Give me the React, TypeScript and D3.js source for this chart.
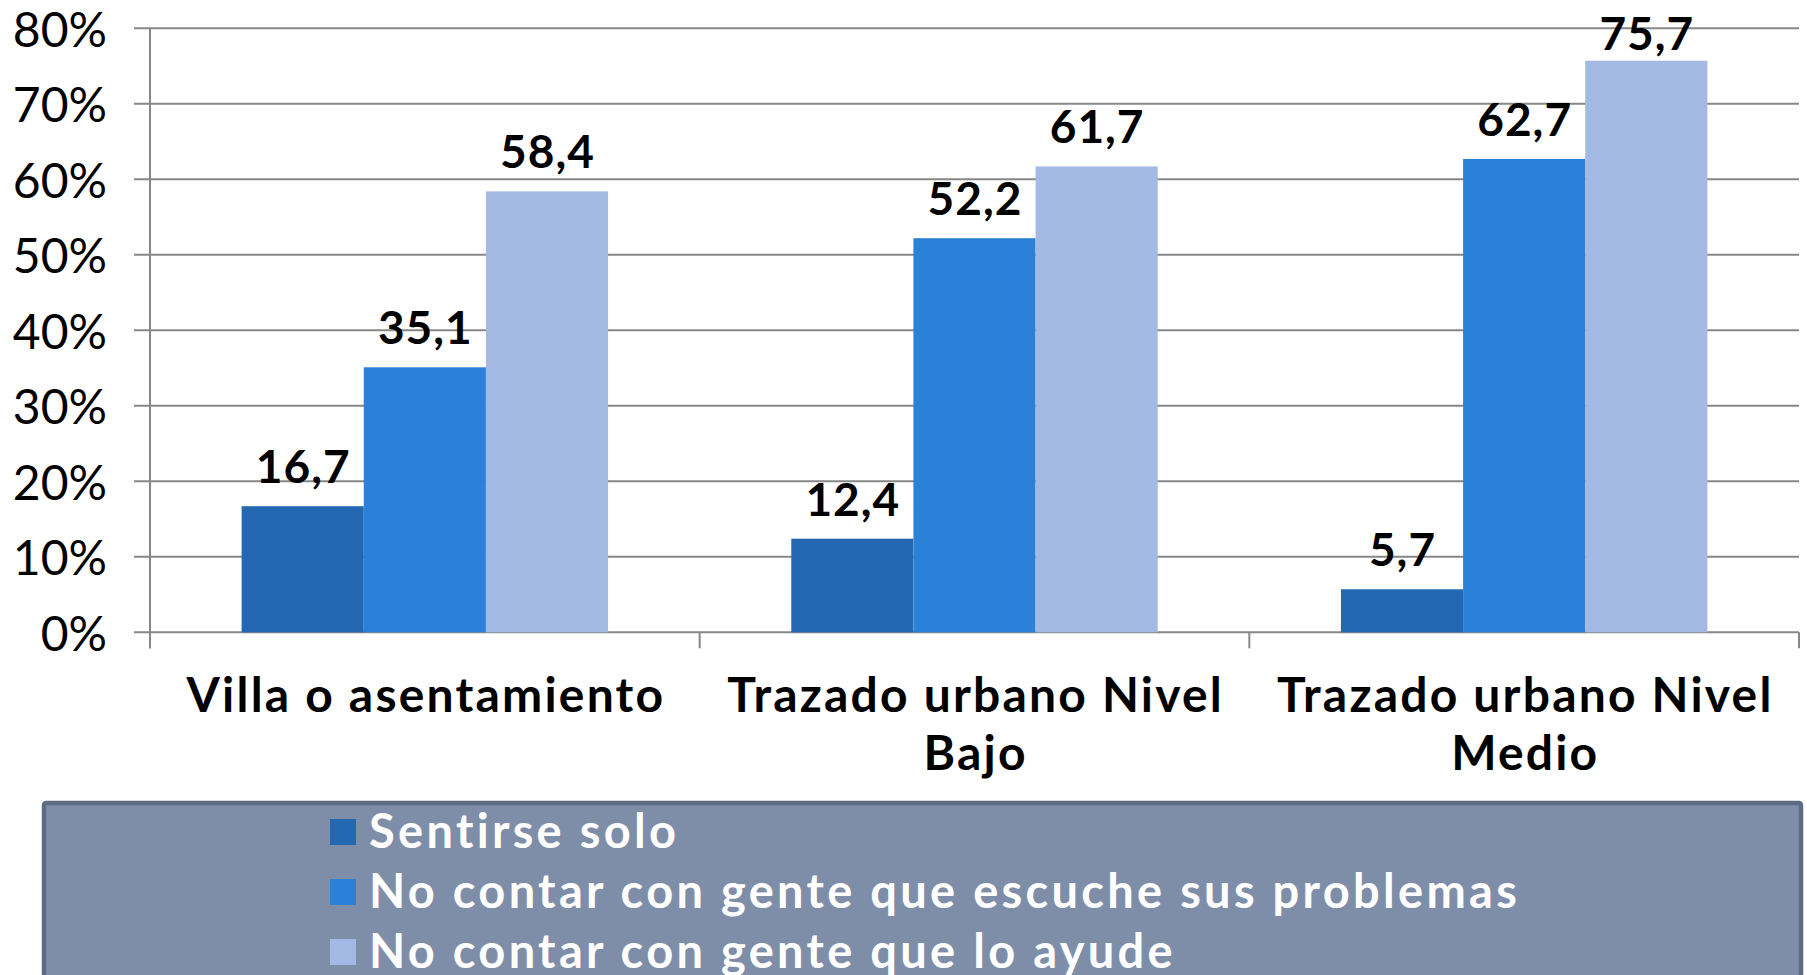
import React from "react";
import * as d3 from "d3";

const categories = ["Villa o asentamiento", "Trazado urbano Nivel Bajo", "Trazado urbano Nivel Medio"];
const categoryLines = [["Villa o asentamiento"], ["Trazado urbano Nivel", "Bajo"], ["Trazado urbano Nivel", "Medio"]];
const seriesNames = [
  "Sentirse solo",
  "No contar con gente que escuche sus problemas",
  "No contar con gente que lo ayude",
];
const sentirseSolo = [16.7, 12.4, 5.7];
const noEscuche = [35.1, 52.2, 62.7];
const noAyude = [58.4, 61.7, 75.7];
const seriesValues = [sentirseSolo, noEscuche, noAyude];
const seriesColors = ["#2368b1", "#2b80d8", "#a3b9e4"];
const yTicks = [0, 10, 20, 30, 40, 50, 60, 70, 80];

const W = 1807;
const H = 975;
const left = 150;
const right = 1799;
const top = 28.3;
const bottom = 632.3;
const FONT = "Lato, 'Open Sans', sans-serif";

export default function App() {
  const x0 = d3.scaleBand<string>().domain(categories).range([left, right]).paddingInner(0).paddingOuter(0);
  const x1 = d3
    .scaleBand<string>()
    .domain(seriesNames)
    .range([0, x0.bandwidth()])
    .paddingInner(0)
    .paddingOuter(0.75);
  const y = d3.scaleLinear().domain([0, 80]).range([bottom, top]);
  const fmt = (v: number) => d3.format(".1f")(v).replace(".", ",");
  const gridColor = "#878787";
  const catLS = 2.2;
  const valLS = 1;
  const legLS = 3.3;

  return (
    <svg
      width={W}
      height={H}
      style={{ position: "absolute", left: 0, top: 0, display: "block", background: "#fff" }}
    >
      {/* gridlines + y ticks */}
      {yTicks.map((t) => (
        <g key={t}>
          <line x1={left - 16} x2={right} y1={y(t)} y2={y(t)} stroke={gridColor} strokeWidth={2} />
          <text
            x={107}
            y={y(t)}
            textAnchor="end"
            dominantBaseline="central"
            fontFamily={FONT}
            fontSize={48}
            fill="#000"
          >
            {t}%
          </text>
        </g>
      ))}
      {/* y axis */}
      <line x1={left} x2={left} y1={top} y2={bottom + 16} stroke={gridColor} strokeWidth={2} />
      {/* category ticks */}
      {[...categories.map((c) => x0(c) as number), right].map((xv, i) => (
        <line key={i} x1={xv} x2={xv} y1={bottom} y2={bottom + 16} stroke={gridColor} strokeWidth={2} />
      ))}
      {/* bars */}
      {categories.map((c, ci) => (
        <g key={c} transform={`translate(${x0(c)},0)`}>
          {seriesNames.map((s, si) => {
            const v = seriesValues[si][ci];
            const bx = x1(s) as number;
            const bw = x1.bandwidth();
            const by = y(v);
            const baseline = Math.max(by - 23, 50);
            return (
              <g key={s}>
                <rect x={bx} y={by} width={bw} height={bottom - by} fill={seriesColors[si]} />
                <text
                  x={bx + bw / 2 + valLS / 2}
                  y={baseline}
                  textAnchor="middle"
                  fontFamily={FONT}
                  fontWeight={700}
                  fontSize={46}
                  letterSpacing={valLS}
                  fill="#000"
                >
                  {fmt(v)}
                </text>
              </g>
            );
          })}
        </g>
      ))}
      {/* category labels */}
      {categories.map((c, ci) => {
        const cx = (x0(c) as number) + x0.bandwidth() / 2 + catLS / 2;
        return (
          <text
            key={c}
            x={cx}
            textAnchor="middle"
            fontFamily={FONT}
            fontWeight={700}
            fontSize={48}
            letterSpacing={catLS}
            fill="#000"
          >
            {categoryLines[ci].map((ln, li) => (
              <tspan key={li} x={cx} y={712 + li * 58}>
                {ln}
              </tspan>
            ))}
          </text>
        );
      })}
      {/* legend */}
      <rect x={44} y={803} width={1757} height={220} fill="#7f8ea8" stroke="#5e6c82" strokeWidth={4.5} rx={2} />
      {seriesNames.map((s, si) => (
        <g key={s}>
          <rect x={330} y={819 + si * 60} width={26} height={26} fill={seriesColors[si]} />
          <text
            x={369}
            y={848 + si * 60}
            fontFamily={FONT}
            fontWeight={700}
            fontSize={47}
            letterSpacing={legLS}
            fill="#fff"
          >
            {s}
          </text>
        </g>
      ))}
    </svg>
  );
}
